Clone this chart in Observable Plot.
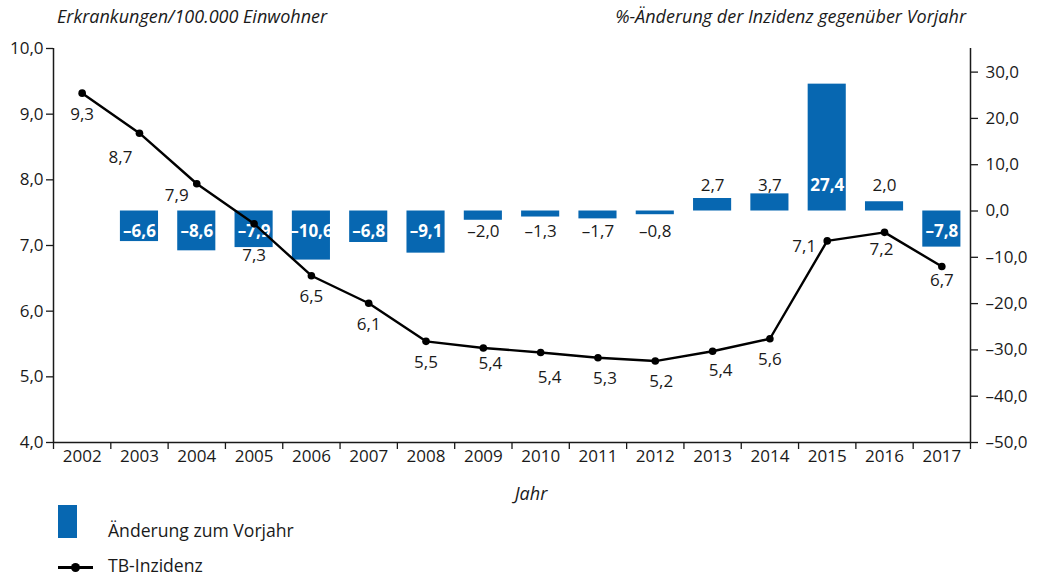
<!DOCTYPE html>
<html><head><meta charset="utf-8">
<script src="https://cdn.jsdelivr.net/npm/d3@7"></script>
<script src="https://cdn.jsdelivr.net/npm/@observablehq/plot@0.6"></script>
<style>
body{margin:0;background:#fff;font-family:"Open Sans",sans-serif;color:#1a1a1a}
#wrap{position:relative;width:1040px;height:576px;overflow:hidden}
.abs{position:absolute;white-space:nowrap;line-height:20px}
</style></head><body><div id="wrap"></div>
<script>
// ---- data ----
const years = [2002,2003,2004,2005,2006,2007,2008,2009,2010,2011,2012,2013,2014,2015,2016,2017];
const incidence = [9.32,8.71,7.94,7.33,6.54,6.12,5.54,5.44,5.37,5.29,5.24,5.39,5.58,7.07,7.20,6.68];
const changeYears = [2003,2004,2005,2006,2007,2008,2009,2010,2011,2012,2013,2014,2015,2016,2017];
const change = [-6.6,-8.6,-7.9,-10.6,-6.8,-9.1,-2.0,-1.3,-1.7,-0.8,2.7,3.7,27.4,2.0,-7.8];
const leftTicks = [4,5,6,7,8,9,10];
const rightTicks = [-50,-40,-30,-20,-10,0,10,20,30];
const titleLeft = "Erkrankungen/100.000 Einwohner";
const titleRight = "%-Änderung der Inzidenz gegenüber Vorjahr";
const xTitle = "Jahr";
const legendBar = "Änderung zum Vorjahr";
const legendLine = "TB-Inzidenz";

// ---- helpers ----
const BLUE = "#0767b1";
const INK = "#1a1a1a";
const leftDomain = [4, 10];
const rightDomain = [-50, 35.1];
const toLeft = v => leftDomain[0] + (v - rightDomain[0]) * (leftDomain[1]-leftDomain[0]) / (rightDomain[1]-rightDomain[0]);
const fromLeft = l => rightDomain[0] + (l - leftDomain[0]) * (rightDomain[1]-rightDomain[0]) / (leftDomain[1]-leftDomain[0]);
const comma = v => Math.abs(v).toFixed(1).replace(".", ",");
const fmtSigned = v => (v < -1e-9 ? "\u2013" : "") + comma(v);

const lineData = years.map((year, i) => ({year, value: incidence[i], label: comma(incidence[i])}));
const barData = changeYears.map((year, i) => ({year, change: change[i], label: fmtSigned(change[i])}));
const boundaries = [...years.map(y => y - 0.5), years[years.length-1] + 0.5];
const isInside = d => d.change <= -5 || d.change >= 10;

// label nudges for the incidence values (style, not data)
const nudge = {2003:[-19,24],2004:[-20,12],2005:[0,32],2009:[7,16],2010:[9,25],2011:[7,21],2012:[6,20],2013:[8,19],2015:[-23,6],2016:[-3,17],2017:[0,14]};
const ndx = d => (nudge[d.year] || [0,21])[0];
const ndy = d => (nudge[d.year] || [0,21])[1];

const chart = Plot.plot({
  width: 1040,
  height: 576,
  marginTop: 48,
  marginBottom: 134,
  marginLeft: 53,
  marginRight: 70,
  style: {fontFamily: "'Open Sans', sans-serif", fontSize: "17px", color: INK, background: "white"},
  x: {type: "linear", domain: [years[0]-0.5, years[years.length-1]+0.5]},
  y: {domain: leftDomain},
  marks: [
    Plot.rect(barData, {x1: d => d.year - 0.5, x2: d => d.year + 0.5, y1: () => toLeft(0), y2: d => toLeft(d.change), insetLeft: 9.6, insetRight: 9.6, fill: BLUE}),
    Plot.text(barData.filter(isInside), {x: "year", y: d => toLeft(d.change > 0 ? 5.5 : -4.4), text: "label", fill: "white", fontWeight: "bold", fontSize: 17}),
    Plot.text(barData.filter(d => !isInside(d)), {x: "year", y: d => toLeft(d.change > 0 ? 5.5 : -4.4), text: "label", fill: INK, fontSize: 17}),
    Plot.line(lineData, {x: "year", y: "value", stroke: "black", strokeWidth: 2.4}),
    Plot.dot(lineData, {x: "year", y: "value", r: 3.8, fill: "black"}),
    ...lineData.map(d => Plot.text([d], {x: "year", y: "value", text: "label", dx: ndx(d), dy: ndy(d), fill: INK, fontSize: 17})),
    Plot.ruleY([leftDomain[0]], {stroke: INK, strokeWidth: 1.5}),
    Plot.ruleX([boundaries[0], boundaries[boundaries.length-1]], {stroke: INK, strokeWidth: 1.5}),
    Plot.axisY({anchor: "left", ticks: leftTicks, tickFormat: comma, tickSize: 7, tickPadding: 3, label: null, fontSize: 17, stroke: INK, strokeWidth: 1.3}),
    Plot.axisY({anchor: "right", ticks: rightTicks.map(toLeft), tickFormat: d => fmtSigned(Math.round(fromLeft(d))), tickSize: 7, tickPadding: 8, label: null, fontSize: 17, stroke: INK, strokeWidth: 1.3}),
    Plot.axisX({ticks: boundaries, tickSize: 7, tickFormat: () => "", label: null, stroke: INK, strokeWidth: 1.3}),
    Plot.axisX({ticks: years, tickSize: 0, tickPadding: 7, tickFormat: d => String(d), label: null, fontSize: 17})
  ]
});

const wrap = document.getElementById("wrap");
chart.style.position = "absolute";
chart.style.left = "0px";
chart.style.top = "0px";
wrap.appendChild(chart);

function addText(txt, css) {
  const el = document.createElement("div");
  el.className = "abs";
  el.textContent = txt;
  Object.assign(el.style, css);
  wrap.appendChild(el);
  return el;
}
addText(titleLeft, {left: "57px", top: "6px", fontSize: "18px", fontStyle: "italic"});
addText(titleRight, {right: "74px", top: "6px", fontSize: "18px", fontStyle: "italic"});
addText(xTitle, {left: "0px", width: "1062px", textAlign: "center", top: "483px", fontSize: "18px", fontStyle: "italic"});
addText(legendBar, {left: "108px", top: "520px", fontSize: "17.6px"});
addText(legendLine, {left: "108px", top: "555px", fontSize: "17.6px"});

const sw = document.createElement("div");
Object.assign(sw.style, {position: "absolute", left: "58px", top: "505px", width: "19px", height: "33px", background: BLUE});
wrap.appendChild(sw);
const ln = document.createElement("div");
Object.assign(ln.style, {position: "absolute", left: "58px", top: "566px", width: "35px", height: "2.5px", background: "black"});
wrap.appendChild(ln);
const dt = document.createElement("div");
Object.assign(dt.style, {position: "absolute", left: "70.5px", top: "562.5px", width: "9px", height: "9px", borderRadius: "50%", background: "black"});
wrap.appendChild(dt);
</script>
</body></html>
